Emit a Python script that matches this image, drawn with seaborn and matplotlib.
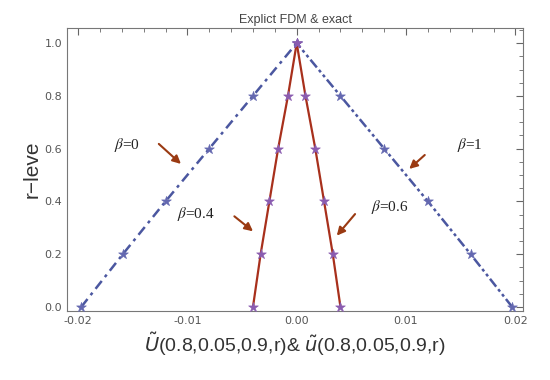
import matplotlib
matplotlib.use("Agg")
import matplotlib.pyplot as plt
import seaborn as sns
import numpy as np
import pandas as pd
from matplotlib.ticker import MultipleLocator

r_level = [0.0, 0.2, 0.4, 0.6, 0.8, 1.0]
u_beta0 = [-0.0197, -0.0159, -0.0120, -0.0080, -0.0040, 0.0]
u_beta1 = [0.0197, 0.0159, 0.0120, 0.0080, 0.0040, 0.0]
u_beta04 = [-0.0040, -0.0033, -0.0025, -0.0017, -0.0008, 0.0]
u_beta06 = [0.0040, 0.0033, 0.0025, 0.0017, 0.0008, 0.0]

labels = [r"$\beta$=0", r"$\beta$=1", r"$\beta$=0.4", r"$\beta$=0.6"]
label_pos = [(-0.0155, 0.615), (0.0158, 0.614), (-0.0092, 0.352), (0.0085, 0.379)]
arrow_tail = [(-0.0128, 0.625), (0.0119, 0.583), (-0.0059, 0.35), (0.0055, 0.36)]
arrow_head = [(-0.0104, 0.535), (0.0101, 0.516), (-0.0038, 0.28), (0.0035, 0.262)]

blue = "#4b57a0"
star_blue = "#6468b0"
red = "#a8301c"
star_purple = "#8a5cb0"

sns.set_style("white")
fig = plt.figure(figsize=(5.5, 3.8), dpi=100)
ax = fig.add_axes([0.122, 0.182, 0.829, 0.744])

df = pd.DataFrame({"r": r_level, "b0": u_beta0, "b1": u_beta1,
                   "b04": u_beta04, "b06": u_beta06})

# exact solutions (lines)
sns.lineplot(data=df, x="b0", y="r", ax=ax, color=blue, lw=1.8,
             sort=False, estimator=None)
ax.lines[-1].set_dashes([4, 2, 1.2, 2])
sns.lineplot(data=df, x="b1", y="r", ax=ax, color=blue, lw=1.8,
             sort=False, estimator=None)
ax.lines[-1].set_dashes([4, 1.3, 1.2, 1.3, 1.2, 1.3])
for col in ["b04", "b06"]:
    sns.lineplot(data=df, x=col, y="r", ax=ax, color=red, lw=1.6,
                 sort=False, estimator=None)

# FDM points (stars)
for col, c in [("b0", star_blue), ("b1", star_blue),
               ("b04", star_purple), ("b06", star_purple)]:
    sns.scatterplot(data=df, x=col, y="r", ax=ax, marker="*", s=55,
                    color=c, edgecolor=c, linewidth=0.4, zorder=5)

for txt, p, t, h in zip(labels, label_pos, arrow_tail, arrow_head):
    ax.text(p[0], p[1], txt, ha="center", va="center", fontsize=11,
            family="Liberation Serif", color="#222222", math_fontfamily="stix")
    ax.annotate("", xy=h, xytext=t,
                arrowprops=dict(arrowstyle="-|>", color="#9a3a12", lw=1.5,
                                mutation_scale=12))

ax.set_xlim(-0.021, 0.0207)
ax.set_ylim(-0.015, 1.057)
ax.xaxis.set_major_locator(MultipleLocator(0.01))
ax.xaxis.set_minor_locator(MultipleLocator(0.002))
ax.yaxis.set_major_locator(MultipleLocator(0.2))
ax.yaxis.set_minor_locator(MultipleLocator(0.05))
ax.set_xticklabels([f"{v:.2f}" for v in ax.get_xticks()])
ax.set_yticklabels([f"{v:.1f}" for v in ax.get_yticks()])
ax.tick_params(which="both", direction="in", top=True, right=True,
               labelsize=8, labelcolor="#555555", color="#666666")
ax.tick_params(which="major", length=5)
ax.tick_params(which="minor", length=3)
for s in ax.spines.values():
    s.set_color("#777777")
    s.set_linewidth(0.8)

ax.set_title("Explict FDM & exact", fontsize=9, color="#444444", pad=4,
             family="Liberation Sans")
ax.set_ylabel("r\u2212leve", fontsize=15, color="#333333", labelpad=2,
              family="Liberation Sans")
ax.set_xlabel(r"$\tilde{U}$(0.8,0.05,0.9,r)& $\tilde{u}$(0.8,0.05,0.9,r)",
              fontsize=14, color="#333333", labelpad=4, family="Liberation Sans",
              math_fontfamily="dejavusans")

fig.savefig("out.png", dpi=100)
